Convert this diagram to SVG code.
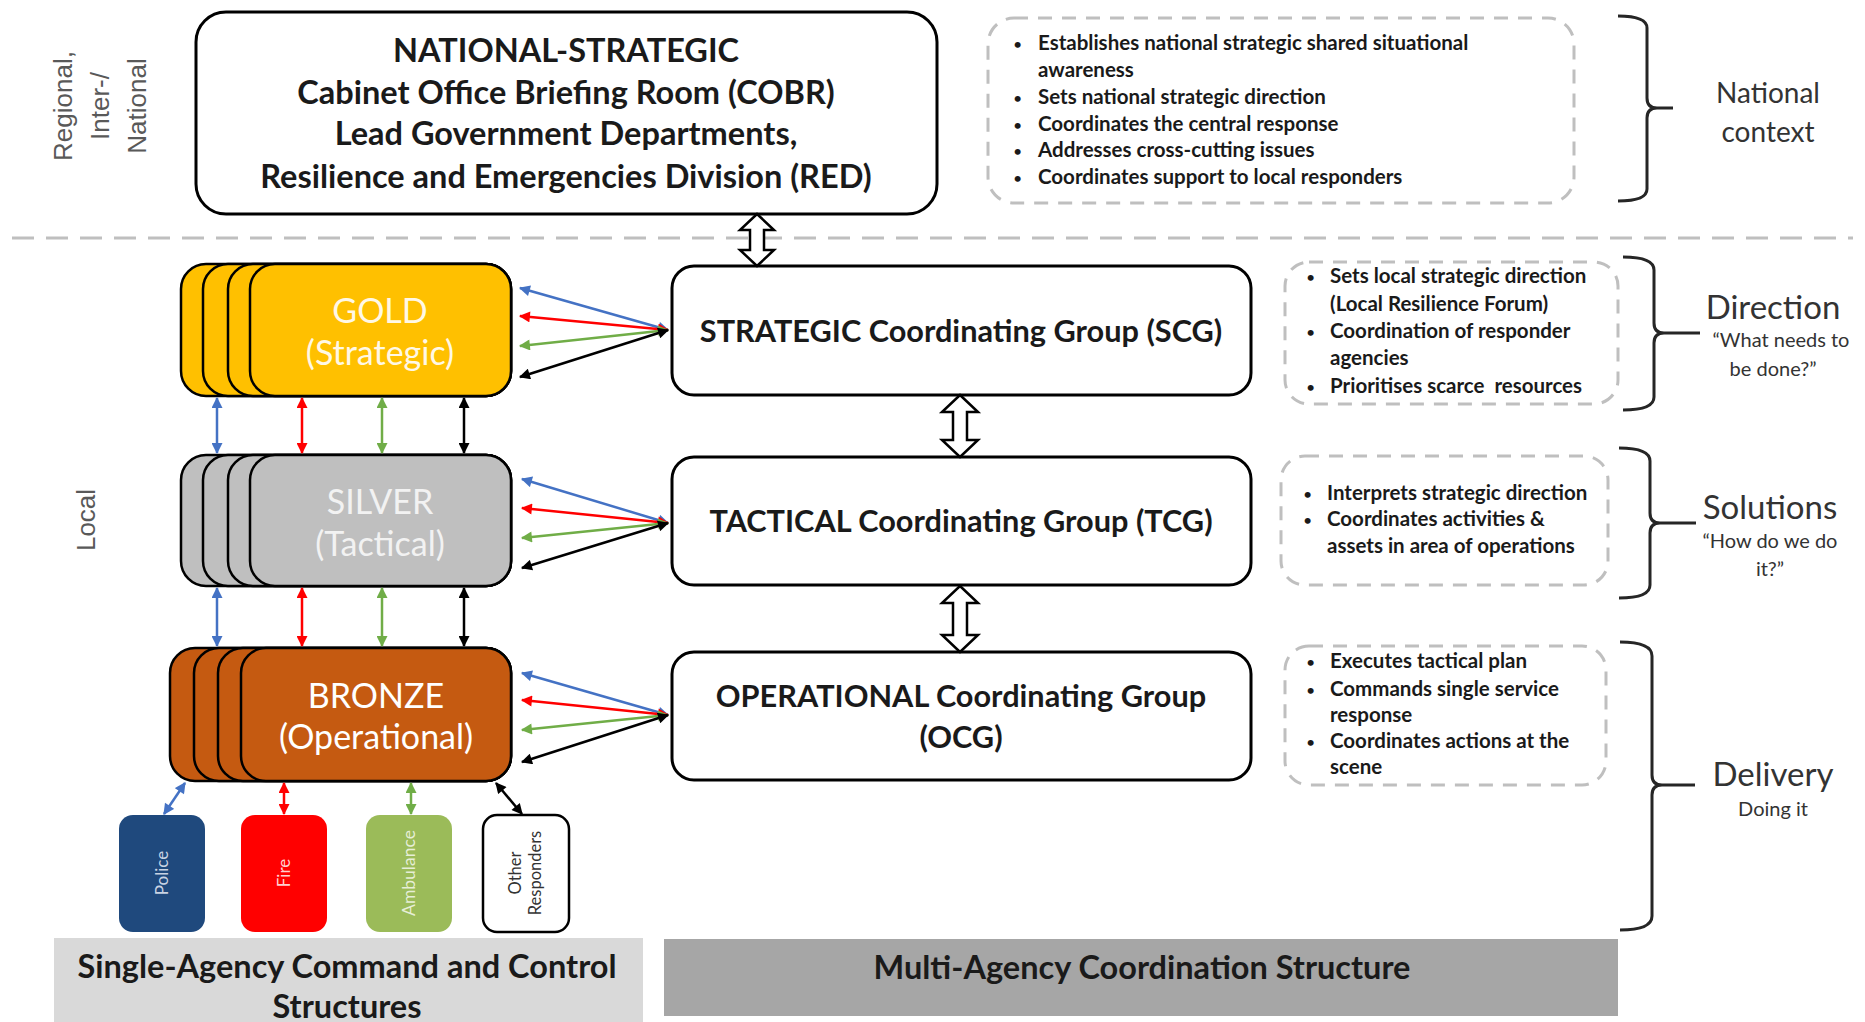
<svg xmlns="http://www.w3.org/2000/svg" width="1865" height="1022" viewBox="0 0 1865 1022">
<style>
.box{fill:#fff;stroke:#000;stroke-width:3}
.dash{fill:none;stroke:#BFBFBF;stroke-width:3;stroke-dasharray:14 10}
.brace{fill:none;stroke:#262626;stroke-width:3}
.t{font-family:Lato,"Liberation Sans",sans-serif;fill:#1a1a1a}
.tb{font-family:Lato,"Liberation Sans",sans-serif;font-weight:bold;fill:#1a1a1a}
.c{text-anchor:middle}
.side{font-family:"Liberation Sans",Arial,sans-serif;fill:#595959;font-size:26px;text-anchor:middle}
.bul{font-family:Lato,"Liberation Sans",sans-serif;font-weight:bold;font-size:20.5px;fill:#1a1a1a}
.dot{font-family:Lato,"Liberation Sans",sans-serif;font-size:16px;fill:#1a1a1a}
.lab{font-family:Lato,"Liberation Sans",sans-serif;fill:#333;text-anchor:middle}
.blk{fill:#fff;stroke:#000;stroke-width:2.5}
.card{stroke:#000;stroke-width:2.5}
.cb{stroke:#4472C4;stroke-width:2.5;fill:none}
.cr{stroke:#FF0000;stroke-width:2.5;fill:none}
.cg{stroke:#70AD47;stroke-width:2.5;fill:none}
.ck{stroke:#000;stroke-width:2.5;fill:none}
</style>
<defs>
<marker id="mb" viewBox="0 0 10 10" refX="9" refY="5" markerWidth="12" markerHeight="11" markerUnits="userSpaceOnUse" orient="auto-start-reverse"><path d="M0,0 L10,5 L0,10 z" fill="#4472C4"/></marker>
<marker id="mr" viewBox="0 0 10 10" refX="9" refY="5" markerWidth="12" markerHeight="11" markerUnits="userSpaceOnUse" orient="auto-start-reverse"><path d="M0,0 L10,5 L0,10 z" fill="#FF0000"/></marker>
<marker id="mg" viewBox="0 0 10 10" refX="9" refY="5" markerWidth="12" markerHeight="11" markerUnits="userSpaceOnUse" orient="auto-start-reverse"><path d="M0,0 L10,5 L0,10 z" fill="#70AD47"/></marker>
<marker id="mk" viewBox="0 0 10 10" refX="9" refY="5" markerWidth="12" markerHeight="11" markerUnits="userSpaceOnUse" orient="auto-start-reverse"><path d="M0,0 L10,5 L0,10 z" fill="#000"/></marker>
</defs>
<rect width="1865" height="1022" fill="#fff"/>

<!-- level divider -->
<line x1="12" y1="238" x2="1853" y2="238" stroke="#BFBFBF" stroke-width="3" stroke-dasharray="22 12"/>

<!-- side labels -->
<g id="label-national-level">
<text class="side" transform="translate(72,106) rotate(-90)"><tspan x="0" y="0">Regional,</tspan><tspan x="0" y="37">Inter-/</tspan><tspan x="0" y="74">National</tspan></text>
</g>
<g id="label-local">
<text class="side" transform="translate(95,520) rotate(-90)">Local</text>
</g>

<!-- National -->
<g id="national">
<rect class="box" x="196" y="12" width="741" height="202" rx="30"/>
<text class="tb c" font-size="32.5"><tspan x="566" y="62">NATIONAL-STRATEGIC</tspan><tspan x="566" y="104">Cabinet Office Briefing Room (COBR)</tspan><tspan x="566" y="145">Lead Government Departments,</tspan><tspan x="566" y="188">Resilience and Emergencies Division (RED)</tspan></text>
</g>
<g id="national-notes">
<rect class="dash" x="988" y="18" width="586" height="185" rx="26"/>
<g class="dot">
<text x="1013" y="50">•</text><text x="1013" y="104">•</text><text x="1013" y="131">•</text><text x="1013" y="157">•</text><text x="1013" y="184">•</text>
</g>
<g class="bul">
<text x="1038" y="50">Establishes national strategic shared situational</text>
<text x="1038" y="77">awareness</text>
<text x="1038" y="104">Sets national strategic direction</text>
<text x="1038" y="131">Coordinates the central response</text>
<text x="1038" y="157">Addresses cross-cutting issues</text>
<text x="1038" y="184">Coordinates support to local responders</text>
</g>
</g>
<g id="national-context">
<path class="brace" d="M1618,16 Q1647,16 1647,28 V98 Q1647,108 1657,108 H1673 M1657,108 Q1647,108 1647,118 V189 Q1647,201 1618,201"/>
<text class="lab" font-size="28"><tspan x="1768" y="103">National</tspan><tspan x="1768" y="142">context</tspan></text>
</g>

<!-- Gold -->
<g id="gold">
<rect class="card" fill="#FFC000" x="181" y="264" width="330" height="132" rx="25"/>
<rect class="card" fill="#FFC000" x="203" y="264" width="308" height="132" rx="25"/>
<rect class="card" fill="#FFC000" x="228" y="264" width="283" height="132" rx="25"/>
<rect class="card" fill="#FFC000" x="250" y="264" width="261" height="132" rx="25"/>
<text class="t c" font-size="34" style="fill:#FFF8E6"><tspan x="380" y="323">GOLD</tspan><tspan x="380" y="365">(Strategic)</tspan></text>
</g>
<!-- Silver -->
<g id="silver">
<rect class="card" fill="#BFBFBF" x="181" y="455" width="330" height="131" rx="25"/>
<rect class="card" fill="#BFBFBF" x="203" y="455" width="308" height="131" rx="25"/>
<rect class="card" fill="#BFBFBF" x="228" y="455" width="283" height="131" rx="25"/>
<rect class="card" fill="#BFBFBF" x="250" y="455" width="261" height="131" rx="25"/>
<text class="t c" font-size="34" style="fill:#F2F2F2"><tspan x="380" y="514">SILVER</tspan><tspan x="380" y="556">(Tactical)</tspan></text>
</g>
<!-- Bronze -->
<g id="bronze">
<rect class="card" fill="#C55A11" x="170" y="648" width="341" height="133" rx="25"/>
<rect class="card" fill="#C55A11" x="194" y="648" width="317" height="133" rx="25"/>
<rect class="card" fill="#C55A11" x="218" y="648" width="293" height="133" rx="25"/>
<rect class="card" fill="#C55A11" x="241" y="648" width="270" height="133" rx="25"/>
<text class="t c" font-size="34" style="fill:#FFFFFF"><tspan x="376" y="708">BRONZE</tspan><tspan x="376" y="749">(Operational)</tspan></text>
</g>

<!-- Agencies -->
<g id="police">
<rect x="119" y="815" width="86" height="117" rx="14" fill="#1F497D"/>
<text class="t c" font-size="17" style="fill:#C9D3E3" transform="translate(168,873) rotate(-90)">Police</text>
</g>
<g id="fire">
<rect x="241" y="815" width="86" height="117" rx="14" fill="#FF0000"/>
<text class="t c" font-size="17" style="fill:#FFD0D0" transform="translate(290,873) rotate(-90)">Fire</text>
</g>
<g id="ambulance">
<rect x="366" y="815" width="86" height="117" rx="14" fill="#9BBB59"/>
<text class="t c" font-size="17.5" style="fill:#E6EED6" transform="translate(415,873) rotate(-90)">Ambulance</text>
</g>
<g id="other-responders">
<rect x="483" y="815" width="86" height="117" rx="14" fill="#fff" stroke="#000" stroke-width="2.5"/>
<text class="t c" font-size="16.5" style="fill:#333" transform="translate(526,873) rotate(-90)"><tspan x="0" y="-5">Other</tspan><tspan x="0" y="15">Responders</tspan></text>
</g>

<!-- Coordinating groups -->
<g id="scg">
<rect class="box" x="672" y="266" width="579" height="129" rx="22"/>
<text class="tb c" font-size="30.7" x="961" y="342">STRATEGIC Coordinating Group (SCG)</text>
</g>
<g id="tcg">
<rect class="box" x="672" y="457" width="579" height="128" rx="22"/>
<text class="tb c" font-size="30.7" x="961" y="532">TACTICAL Coordinating Group (TCG)</text>
</g>
<g id="ocg">
<rect class="box" x="672" y="652" width="579" height="128" rx="22"/>
<text class="tb c" font-size="30.7"><tspan x="961" y="707">OPERATIONAL Coordinating Group</tspan><tspan x="961" y="748">(OCG)</tspan></text>
</g>

<!-- notes -->
<g id="scg-notes">
<rect class="dash" x="1285" y="262" width="333" height="142" rx="24"/>
<g class="dot"><text x="1306" y="283">•</text><text x="1306" y="338">•</text><text x="1306" y="393">•</text></g>
<g class="bul">
<text x="1330" y="283">Sets local strategic direction</text>
<text x="1330" y="311">(Local Resilience Forum)</text>
<text x="1330" y="338">Coordination of responder</text>
<text x="1330" y="365">agencies</text>
<text x="1330" y="393">Prioritises scarce&#160; resources</text>
</g>
</g>
<g id="tcg-notes">
<rect class="dash" x="1281" y="456" width="327" height="129" rx="24"/>
<g class="dot"><text x="1303" y="500">•</text><text x="1303" y="526">•</text></g>
<g class="bul">
<text x="1327" y="500">Interprets strategic direction</text>
<text x="1327" y="526">Coordinates activities &amp;</text>
<text x="1327" y="553">assets in area of operations</text>
</g>
</g>
<g id="ocg-notes">
<rect class="dash" x="1285" y="646" width="321" height="139" rx="24"/>
<g class="dot"><text x="1306" y="668">•</text><text x="1306" y="696">•</text><text x="1306" y="748">•</text></g>
<g class="bul">
<text x="1330" y="668">Executes tactical plan</text>
<text x="1330" y="696">Commands single service</text>
<text x="1330" y="722">response</text>
<text x="1330" y="748">Coordinates actions at the</text>
<text x="1330" y="774">scene</text>
</g>
</g>

<!-- right braces and labels -->
<g id="direction">
<path class="brace" d="M1623,257 Q1654,257 1654,270 V323 Q1654,333 1664,333 H1700 M1664,333 Q1654,333 1654,343 V397 Q1654,410 1623,410"/>
<text class="lab" font-size="33" x="1773" y="319">Direction</text>
<text class="lab" font-size="20"><tspan x="1781" y="347">“What needs to</tspan><tspan x="1773" y="376">be done?”</tspan></text>
</g>
<g id="solutions">
<path class="brace" d="M1619,448 Q1650,448 1650,461 V513 Q1650,523 1660,523 H1696 M1660,523 Q1650,523 1650,533 V585 Q1650,598 1619,598"/>
<text class="lab" font-size="33" x="1770" y="519">Solutions</text>
<text class="lab" font-size="20"><tspan x="1770" y="548">“How do we do</tspan><tspan x="1770" y="576">it?”</tspan></text>
</g>
<g id="delivery">
<path class="brace" d="M1620,642 Q1652,642 1652,656 V775 Q1652,785 1662,785 H1695 M1662,785 Q1652,785 1652,795 V916 Q1652,930 1620,930"/>
<text class="lab" font-size="33" x="1773" y="786">Delivery</text>
<text class="lab" font-size="20" x="1773" y="816">Doing it</text>
</g>

<!-- bottom banners -->
<g id="single-agency">
<rect x="54" y="938" width="589" height="84" fill="#D9D9D9"/>
<text class="tb c" font-size="32.5"><tspan x="347" y="978">Single-Agency Command and Control</tspan><tspan x="347" y="1018">Structures</tspan></text>
</g>
<g id="multi-agency">
<rect x="664" y="939" width="954" height="77" fill="#A6A6A6"/>
<text class="tb c" font-size="32.5" x="1142" y="979">Multi-Agency Coordination Structure</text>
</g>

<!-- connectors -->
<g id="connectors">
<polygon class="blk" points="757,214 774,230 764,230 764,250 774,250 757,266 740,250 750,250 750,230 740,230"/>
<polygon class="blk" points="960,395 978,412 967,412 967,440 978,440 960,457 942,440 953,440 953,412 942,412"/>
<polygon class="blk" points="960,586 978,603 967,603 967,635 978,635 960,652 942,635 953,635 953,603 942,603"/>

<line class="cb" x1="217" y1="398" x2="217" y2="453" marker-start="url(#mb)" marker-end="url(#mb)"/>
<line class="cr" x1="302" y1="398" x2="302" y2="453" marker-start="url(#mr)" marker-end="url(#mr)"/>
<line class="cg" x1="382" y1="398" x2="382" y2="453" marker-start="url(#mg)" marker-end="url(#mg)"/>
<line class="ck" x1="464" y1="398" x2="464" y2="453" marker-start="url(#mk)" marker-end="url(#mk)"/>

<line class="cb" x1="217" y1="588" x2="217" y2="646" marker-start="url(#mb)" marker-end="url(#mb)"/>
<line class="cr" x1="302" y1="588" x2="302" y2="646" marker-start="url(#mr)" marker-end="url(#mr)"/>
<line class="cg" x1="382" y1="588" x2="382" y2="646" marker-start="url(#mg)" marker-end="url(#mg)"/>
<line class="ck" x1="464" y1="588" x2="464" y2="646" marker-start="url(#mk)" marker-end="url(#mk)"/>

<line class="cb" x1="668" y1="330" x2="520" y2="288" marker-start="url(#mb)" marker-end="url(#mb)"/>
<line class="cr" x1="668" y1="330" x2="520" y2="316" marker-start="url(#mr)" marker-end="url(#mr)"/>
<line class="cg" x1="668" y1="330" x2="520" y2="346" marker-start="url(#mg)" marker-end="url(#mg)"/>
<line class="ck" x1="668" y1="330" x2="520" y2="377" marker-start="url(#mk)" marker-end="url(#mk)"/>

<line class="cb" x1="668" y1="523" x2="522" y2="479" marker-start="url(#mb)" marker-end="url(#mb)"/>
<line class="cr" x1="668" y1="523" x2="522" y2="508" marker-start="url(#mr)" marker-end="url(#mr)"/>
<line class="cg" x1="668" y1="523" x2="522" y2="538" marker-start="url(#mg)" marker-end="url(#mg)"/>
<line class="ck" x1="668" y1="523" x2="522" y2="568" marker-start="url(#mk)" marker-end="url(#mk)"/>

<line class="cb" x1="668" y1="715" x2="522" y2="673" marker-start="url(#mb)" marker-end="url(#mb)"/>
<line class="cr" x1="668" y1="715" x2="522" y2="700" marker-start="url(#mr)" marker-end="url(#mr)"/>
<line class="cg" x1="668" y1="715" x2="522" y2="730" marker-start="url(#mg)" marker-end="url(#mg)"/>
<line class="ck" x1="668" y1="715" x2="522" y2="762" marker-start="url(#mk)" marker-end="url(#mk)"/>

<line class="cb" x1="185" y1="783" x2="164" y2="814" marker-start="url(#mb)" marker-end="url(#mb)"/>
<line class="cr" x1="284" y1="783" x2="284" y2="814" marker-start="url(#mr)" marker-end="url(#mr)"/>
<line class="cg" x1="411" y1="783" x2="411" y2="814" marker-start="url(#mg)" marker-end="url(#mg)"/>
<line class="ck" x1="496" y1="783" x2="522" y2="814" marker-start="url(#mk)" marker-end="url(#mk)"/>
</g>
</svg>
